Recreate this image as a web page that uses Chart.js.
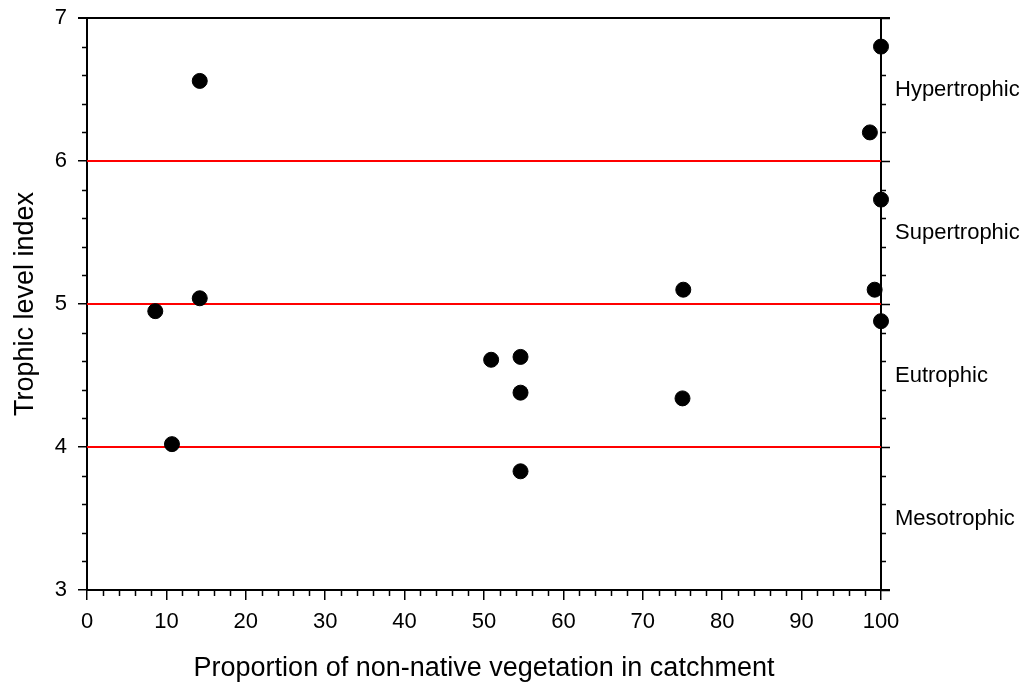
<!DOCTYPE html>
<html>
<head>
<meta charset="utf-8">
<script src="https://cdn.jsdelivr.net/npm/chart.js@4"></script>
<style>
  html, body { margin: 0; padding: 0; background: #fff; }
  #wrap { width: 1027px; height: 688px; position: relative; }
</style>
</head>
<body>
<div id="wrap"><canvas id="c" width="1027" height="688"></canvas></div>
<script>
// ---- data ----
const proportionNonNative = [8.6, 14.2, 14.2, 10.7, 50.9, 54.6, 54.6, 54.6, 75.0, 75.1, 100, 98.6, 100, 99.2, 100];
const trophicLevelIndex   = [4.95, 5.04, 6.56, 4.02, 4.61, 4.63, 4.38, 3.83, 4.34, 5.10, 6.80, 6.20, 5.73, 5.10, 4.88];
const thresholds = [4, 5, 6];
const zoneLabels = ['Hypertrophic', 'Supertrophic', 'Eutrophic', 'Mesotrophic'];
const zoneCenters = [6.5, 5.5, 4.5, 3.5];
const xRange = [0, 100];
const yRange = [3, 7];
const xMajorStep = 10, xMinorStep = 2;
const yMajorStep = 1, yMinorStep = 0.2;

const FONT = "'Liberation Sans', Arial, sans-serif";
const points = proportionNonNative.map((x, i) => ({ x: x, y: trophicLevelIndex[i] }));
const thresholdSets = thresholds.map(t => ({
  type: 'line',
  data: [{ x: xRange[0], y: t }, { x: xRange[1], y: t }],
  borderColor: '#ff0000',
  borderWidth: 2,
  pointRadius: 0,
  fill: false,
  order: 2
}));

const MAJOR = 9, MINOR = 5;

const extras = {
  id: 'extras',
  beforeDatasetsDraw(chart) {
    const { ctx, chartArea: a, scales: { x, y } } = chart;
    ctx.save();
    ctx.strokeStyle = '#000';
    ctx.lineWidth = 2;
    ctx.beginPath();
    ctx.moveTo(a.left - MAJOR, a.top); ctx.lineTo(a.right + MAJOR, a.top);
    ctx.moveTo(a.right, a.top); ctx.lineTo(a.right, a.bottom);
    ctx.moveTo(a.right, a.bottom); ctx.lineTo(a.right + MAJOR, a.bottom);
    ctx.stroke();
    ctx.lineWidth = 1.5;
    ctx.beginPath();
    const nY = Math.round((yRange[1] - yRange[0]) / yMinorStep);
    for (let i = 0; i <= nY; i++) {
      const v = yRange[0] + i * yMinorStep;
      const py = Math.round(y.getPixelForValue(v)) + 0.5;
      const isMajor = Math.abs(v / yMajorStep - Math.round(v / yMajorStep)) < 1e-6;
      const len = isMajor ? MAJOR : MINOR;
      if (!isMajor) { ctx.moveTo(a.left - MINOR, py); ctx.lineTo(a.left, py); }
      ctx.moveTo(a.right, py); ctx.lineTo(a.right + len, py);
    }
    const nX = Math.round((xRange[1] - xRange[0]) / xMinorStep);
    for (let i = 0; i <= nX; i++) {
      const v = xRange[0] + i * xMinorStep;
      if (Math.abs(v / xMajorStep - Math.round(v / xMajorStep)) < 1e-6) continue;
      const px = Math.round(x.getPixelForValue(v)) + 0.5;
      ctx.moveTo(px, a.bottom); ctx.lineTo(px, a.bottom + MINOR + 1);
    }
    ctx.stroke();
    ctx.fillStyle = '#000';
    ctx.font = '22px ' + FONT;
    ctx.textAlign = 'left';
    ctx.textBaseline = 'middle';
    zoneLabels.forEach((lab, i) => {
      ctx.fillText(lab, a.right + 14, y.getPixelForValue(zoneCenters[i]));
    });
    ctx.restore();
  }
};

new Chart(document.getElementById('c'), {
  type: 'scatter',
  data: {
    datasets: [
      {
        data: points,
        backgroundColor: '#000',
        borderColor: '#000',
        pointRadius: 7.5,
        pointHoverRadius: 7.5,
        clip: false,
        order: 1
      },
      ...thresholdSets
    ]
  },
  plugins: [extras],
  options: {
    responsive: false,
    animation: false,
    events: [],
    layout: { padding: { left: 0, top: 18, right: 146, bottom: 0 } },
    plugins: { legend: { display: false }, tooltip: { enabled: false } },
    scales: {
      x: {
        type: 'linear',
        min: xRange[0], max: xRange[1],
        afterFit(s) { s.height = 98; s.paddingLeft = 0; s.paddingRight = 0; },
        ticks: { stepSize: xMajorStep, color: '#000', font: { family: FONT, size: 22 }, padding: 9, maxRotation: 0 },
        grid: { drawOnChartArea: false, drawTicks: true, tickLength: MAJOR + 1, color: '#000', lineWidth: 1.5 },
        border: { display: true, color: '#000', width: 2 },
        title: { display: true, text: 'Proportion of non-native vegetation in catchment', color: '#000',
                 font: { family: FONT, size: 27 }, padding: { top: 0, bottom: 3 } }
      },
      y: {
        type: 'linear',
        min: yRange[0], max: yRange[1],
        afterFit(s) { s.width = 87; s.paddingTop = 0; s.paddingBottom = 0; },
        ticks: { stepSize: yMajorStep, color: '#000', font: { family: FONT, size: 22 }, padding: 11 },
        grid: { drawOnChartArea: false, drawTicks: true, tickLength: MAJOR, color: '#000', lineWidth: 1.5 },
        border: { display: true, color: '#000', width: 2 },
        title: { display: true, text: 'Trophic level index', color: '#000',
                 font: { family: FONT, size: 27 }, padding: { top: 9, bottom: 0 } }
      }
    }
  }
});
</script>
</body>
</html>
